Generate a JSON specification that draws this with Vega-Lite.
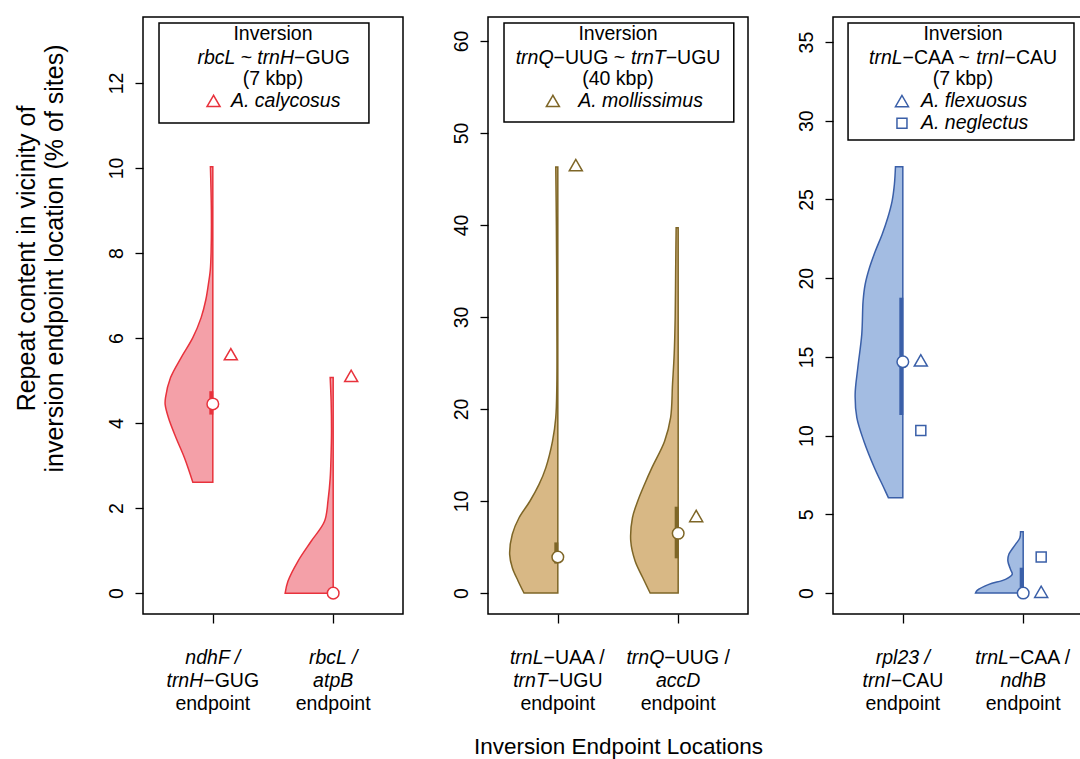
{
"$schema": "https://vega.github.io/schema/vega-lite/v6.json",
"padding": {"left": 13, "top": 16, "right": 0, "bottom": 5},
"background": "white",
"config": {
 "view": {"stroke": "black", "strokeWidth": 1.5},
 "font": "Liberation Sans",
 "axis": {"grid": false, "domain": false, "tickColor": "black", "labelColor": "black", "titleColor": "black", "tickWidth": 1.3, "labelFont": "Liberation Sans", "titleFont": "Liberation Sans", "labelFontSize": 19.5, "titleFontSize": 22.5, "titleFontWeight": "normal"},
 "axisY": {"tickSize": 8, "labelAngle": -90, "labelAlign": "center", "labelBaseline": "bottom", "labelPadding": 9},
 "axisX": {"tickSize": 9, "labels": false},
 "text": {"font": "Liberation Sans", "fontSize": 19.5, "color": "black"}
},
"datasets": {
 "violin": [
  {"p":1,"pos":1,"y":10.03,"x":0.980},{"p":1,"pos":1,"y":9.0,"x":0.988},{"p":1,"pos":1,"y":8.05,"x":0.986},{"p":1,"pos":1,"y":7.6,"x":0.979},{"p":1,"pos":1,"y":7.26,"x":0.963},{"p":1,"pos":1,"y":6.9,"x":0.942},{"p":1,"pos":1,"y":6.48,"x":0.903},{"p":1,"pos":1,"y":6.01,"x":0.834},{"p":1,"pos":1,"y":5.54,"x":0.737},{"p":1,"pos":1,"y":5.07,"x":0.649},{"p":1,"pos":1,"y":4.6,"x":0.607},{"p":1,"pos":1,"y":4.44,"x":0.604},{"p":1,"pos":1,"y":4.12,"x":0.632},{"p":1,"pos":1,"y":3.65,"x":0.695},{"p":1,"pos":1,"y":3.18,"x":0.765},{"p":1,"pos":1,"y":2.61,"x":0.834},
  {"p":1,"pos":2,"y":5.07,"x":1.975},{"p":1,"pos":2,"y":4.5,"x":1.983},{"p":1,"pos":2,"y":3.8,"x":1.986},{"p":1,"pos":2,"y":3.2,"x":1.982},{"p":1,"pos":2,"y":2.7,"x":1.975},{"p":1,"pos":2,"y":2.2,"x":1.958},{"p":1,"pos":2,"y":1.69,"x":1.928},{"p":1,"pos":2,"y":1.22,"x":1.817},{"p":1,"pos":2,"y":0.75,"x":1.707},{"p":1,"pos":2,"y":0.28,"x":1.624},{"p":1,"pos":2,"y":0,"x":1.601},
  {"p":2,"pos":1,"y":46.3,"x":0.983},{"p":2,"pos":1,"y":40,"x":0.988},{"p":2,"pos":1,"y":30,"x":0.992},{"p":2,"pos":1,"y":22.7,"x":0.992},{"p":2,"pos":1,"y":19.06,"x":0.983},{"p":2,"pos":1,"y":16.5,"x":0.956},{"p":2,"pos":1,"y":13.6,"x":0.900},{"p":2,"pos":1,"y":11.8,"x":0.844},{"p":2,"pos":1,"y":10.0,"x":0.769},{"p":2,"pos":1,"y":8.18,"x":0.678},{"p":2,"pos":1,"y":6.38,"x":0.622},{"p":2,"pos":1,"y":4.2,"x":0.600},{"p":2,"pos":1,"y":2.75,"x":0.622},{"p":2,"pos":1,"y":1.34,"x":0.669},{"p":2,"pos":1,"y":0,"x":0.719},
  {"p":2,"pos":2,"y":39.7,"x":1.983},{"p":2,"pos":2,"y":35,"x":1.979},{"p":2,"pos":2,"y":29.9,"x":1.975},{"p":2,"pos":2,"y":26,"x":1.967},{"p":2,"pos":2,"y":22.7,"x":1.953},{"p":2,"pos":2,"y":19.05,"x":1.937},{"p":2,"pos":2,"y":16.5,"x":1.887},{"p":2,"pos":2,"y":13.6,"x":1.781},{"p":2,"pos":2,"y":11.8,"x":1.720},{"p":2,"pos":2,"y":10.0,"x":1.664},{"p":2,"pos":2,"y":8.18,"x":1.620},{"p":2,"pos":2,"y":5.65,"x":1.606},{"p":2,"pos":2,"y":3.48,"x":1.642},{"p":2,"pos":2,"y":1.66,"x":1.706},{"p":2,"pos":2,"y":0,"x":1.767},
  {"p":3,"pos":1,"y":27.08,"x":0.939},{"p":3,"pos":1,"y":25.96,"x":0.930},{"p":3,"pos":1,"y":24.9,"x":0.911},{"p":3,"pos":1,"y":23.84,"x":0.875},{"p":3,"pos":1,"y":22.78,"x":0.828},{"p":3,"pos":1,"y":21.72,"x":0.772},{"p":3,"pos":1,"y":20.66,"x":0.723},{"p":3,"pos":1,"y":19.6,"x":0.687},{"p":3,"pos":1,"y":18.55,"x":0.670},{"p":3,"pos":1,"y":16.43,"x":0.659},{"p":3,"pos":1,"y":14.31,"x":0.626},{"p":3,"pos":1,"y":12.62,"x":0.604},{"p":3,"pos":1,"y":11.14,"x":0.618},{"p":3,"pos":1,"y":9.66,"x":0.676},{"p":3,"pos":1,"y":7.96,"x":0.764},{"p":3,"pos":1,"y":6.69,"x":0.842},{"p":3,"pos":1,"y":6.06,"x":0.880},
  {"p":3,"pos":2,"y":3.9,"x":1.978},{"p":3,"pos":2,"y":3.5,"x":1.972},{"p":3,"pos":2,"y":3.09,"x":1.936},{"p":3,"pos":2,"y":2.46,"x":1.881},{"p":3,"pos":2,"y":2.03,"x":1.873},{"p":3,"pos":2,"y":1.5,"x":1.895},{"p":3,"pos":2,"y":1.19,"x":1.909},{"p":3,"pos":2,"y":0.87,"x":1.853},{"p":3,"pos":2,"y":0.55,"x":1.715},{"p":3,"pos":2,"y":0.17,"x":1.618},{"p":3,"pos":2,"y":0,"x":1.604}
 ],
 "iqr": [{"p":1,"x":1,"y":4.2,"y2":4.75},{"p":2,"x":1,"y":3.2,"y2":5.5},{"p":2,"x":2,"y":3.77,"y2":9.38},{"p":3,"x":1,"y":11.31,"y2":18.76},{"p":3,"x":2,"y":0,"y2":1.61}],
 "med": [{"p":1,"x":1,"y":4.45},{"p":1,"x":2,"y":0},{"p":2,"x":1,"y":3.91},{"p":2,"x":2,"y":6.49},{"p":3,"x":1,"y":14.69},{"p":3,"x":2,"y":0}],
 "obs": [{"p":1,"x":1,"y":5.62,"species":"A. calycosus"},{"p":1,"x":2,"y":5.11,"species":"A. calycosus"},{"p":2,"x":1,"y":46.5,"species":"A. mollissimus"},{"p":2,"x":2,"y":8.37,"species":"A. mollissimus"},{"p":3,"x":1,"y":14.78,"species":"A. flexuosus"},{"p":3,"x":1,"y":10.33,"species":"A. neglectus"},{"p":3,"x":2,"y":2.29,"species":"A. neglectus"},{"p":3,"x":2,"y":0.08,"species":"A. flexuosus"}],
 "boxes": [{"p":1,"x":0.553,"x2":2.297,"y":13.41,"y2":11.06},{"p":2,"x":0.553,"x2":2.462,"y":61.96,"y2":51.2},{"p":3,"x":0.545,"x2":2.422,"y":36.21,"y2":28.77}],
 "legsym": [{"p":1,"x":1.006,"y":11.576,"species":"A. calycosus"},{"p":2,"x":0.959,"y":53.48,"species":"A. mollissimus"},{"p":3,"x":0.993,"y":31.25,"species":"A. flexuosus"},{"p":3,"x":0.993,"y":29.84,"species":"A. neglectus"}],
 "t_cn": [
  {"p":1,"x":1.5,"y":13.146,"t":"Inversion"},{"p":1,"x":1.5,"y":12.101,"t":"(7 kbp)"},{"p":1,"x":1,"y":-2.612,"t":"endpoint"},{"p":1,"x":2,"y":-2.612,"t":"endpoint"},
  {"p":2,"x":1.5,"y":60.73,"t":"Inversion"},{"p":2,"x":1.5,"y":55.9,"t":"(40 kbp)"},{"p":2,"x":1,"y":-12.065,"t":"endpoint"},{"p":2,"x":2,"y":-12.065,"t":"endpoint"},
  {"p":3,"x":1.5,"y":35.49,"t":"Inversion"},{"p":3,"x":1.5,"y":32.67,"t":"(7 kbp)"},{"p":3,"x":1,"y":-7.051,"t":"endpoint"},{"p":3,"x":2,"y":-7.051,"t":"endpoint"}
 ],
 "t_ci": [
  {"p":1,"x":1,"y":-1.529,"t":"ndhF /"},{"p":1,"x":2,"y":-1.529,"t":"rbcL /"},{"p":1,"x":2,"y":-2.071,"t":"atpB"},
  {"p":2,"x":2,"y":-9.565,"t":"accD"},
  {"p":3,"x":1,"y":-4.129,"t":"rpl23 /"},{"p":3,"x":2,"y":-5.59,"t":"ndhB"}
 ],
 "t_ri": [
  {"p":1,"x":1.675,"y":12.595,"t":"rbcL ~ trnH"},{"p":1,"x":0.921,"y":-2.071,"t":"trnH"},
  {"p":2,"x":0.965,"y":58.18,"t":"trnQ"},{"p":2,"x":1.896,"y":58.18,"t":"trnT"},{"p":2,"x":0.881,"y":-7.065,"t":"trnL"},{"p":2,"x":0.917,"y":-9.565,"t":"trnT"},{"p":2,"x":1.885,"y":-7.065,"t":"trnQ"},
  {"p":3,"x":0.998,"y":34.0,"t":"trnL"},{"p":3,"x":1.845,"y":34.0,"t":"trnI"},{"p":3,"x":0.899,"y":-5.59,"t":"trnI"},{"p":3,"x":1.881,"y":-4.129,"t":"trnL"}
 ],
 "t_ln": [
  {"p":1,"x":1.675,"y":12.595,"t":"−GUG"},{"p":1,"x":0.921,"y":-2.071,"t":"−GUG"},
  {"p":2,"x":0.965,"y":58.18,"t":"−UUG ~"},{"p":2,"x":1.896,"y":58.18,"t":"−UGU"},{"p":2,"x":0.881,"y":-7.065,"t":"−UAA /"},{"p":2,"x":0.917,"y":-9.565,"t":"−UGU"},{"p":2,"x":1.885,"y":-7.065,"t":"−UUG /"},
  {"p":3,"x":0.998,"y":34.0,"t":"−CAA ~"},{"p":3,"x":1.845,"y":34.0,"t":"−CAU"},{"p":3,"x":0.899,"y":-5.59,"t":"−CAU"},{"p":3,"x":1.881,"y":-4.129,"t":"−CAA /"}
 ],
 "t_li": [
  {"p":1,"x":1.151,"y":11.576,"t":"A. calycosus"},
  {"p":2,"x":1.17,"y":53.48,"t":"A. mollissimus"},
  {"p":3,"x":1.151,"y":31.25,"t":"A. flexuosus"},{"p":3,"x":1.151,"y":29.84,"t":"A. neglectus"}
 ]
},
"spacing": 85,
"bounds": "flush",
"hconcat": [
 {
  "width": 260, "height": 597,
  "encoding": {
   "x": {"field":"x","type":"quantitative","scale":{"domain":[0.42,2.58],"nice":false,"zero":false},"axis":{"values":[1,2],"title":null}},
   "y": {"field":"y","type":"quantitative","scale":{"domain":[-0.49,13.55],"nice":false,"zero":false},"axis":{"values":[0,2,4,6,8,10,12],"title":["Repeat content in vicinity of","inversion endpoint location (% of sites)"],"titleFontSize":25,"titleAngle":-90,"titleX":-129,"titleY":241,"titleAlign":"center","titleBaseline":"top","titleLineHeight":28}}
  },
  "layer": [
   {"data":{"name":"violin"},"transform":[{"filter":"datum.p==1 && datum.pos==1"}],"mark":{"type":"area","orient":"horizontal","interpolate":"catmull-rom","fill":"#F4A0A8","stroke":"#E8323C","strokeWidth":1.5},"encoding":{"x2":{"field":"pos"}}},
   {"data":{"name":"violin"},"transform":[{"filter":"datum.p==1 && datum.pos==2"}],"mark":{"type":"area","orient":"horizontal","interpolate":"catmull-rom","fill":"#F4A0A8","stroke":"#E8323C","strokeWidth":1.5},"encoding":{"x2":{"field":"pos"}}},
   {"data":{"name":"iqr"},"transform":[{"filter":"datum.p==1"}],"mark":{"type":"rule","color":"#E8323C","strokeWidth":4,"xOffset":-1.5},"encoding":{"y2":{"field":"y2"}}},
   {"data":{"name":"med"},"transform":[{"filter":"datum.p==1"}],"mark":{"type":"point","shape":"circle","filled":true,"fill":"white","stroke":"#E8323C","strokeWidth":1.5,"size":135,"opacity":1}},
   {"data":{"name":"obs"},"transform":[{"filter":"datum.p==1 && datum.species != 'A. neglectus'"}],"mark":{"type":"point","shape":"triangle-up","size":170,"filled":false,"color":"#E8323C","strokeWidth":1.5,"xOffset":18,"opacity":1}},
   {"data":{"name":"boxes"},"transform":[{"filter":"datum.p==1"}],"mark":{"type":"rect","fill":"white","stroke":"black","strokeWidth":1.5},"encoding":{"x2":{"field":"x2"},"y2":{"field":"y2"}}},
   {"data":{"name":"legsym"},"transform":[{"filter":"datum.p==1 && datum.species != 'A. neglectus'"}],"mark":{"type":"point","shape":"triangle-up","size":170,"filled":false,"color":"#E8323C","strokeWidth":1.5,"opacity":1}},
   {"data":{"name":"t_cn"},"transform":[{"filter":"datum.p==1"}],"mark":{"type":"text","align":"center","baseline":"middle"},"encoding":{"text":{"field":"t"}}},
   {"data":{"name":"t_ci"},"transform":[{"filter":"datum.p==1"}],"mark":{"type":"text","align":"center","baseline":"middle","fontStyle":"italic"},"encoding":{"text":{"field":"t"}}},
   {"data":{"name":"t_ri"},"transform":[{"filter":"datum.p==1"}],"mark":{"type":"text","align":"right","baseline":"middle","fontStyle":"italic"},"encoding":{"text":{"field":"t"}}},
   {"data":{"name":"t_ln"},"transform":[{"filter":"datum.p==1"}],"mark":{"type":"text","align":"left","baseline":"middle"},"encoding":{"text":{"field":"t"}}},
   {"data":{"name":"t_li"},"transform":[{"filter":"datum.p==1"}],"mark":{"type":"text","align":"left","baseline":"middle","fontStyle":"italic"},"encoding":{"text":{"field":"t"}}}
  ]
 },
 {
  "width": 260, "height": 597,
  "encoding": {
   "x": {"field":"x","type":"quantitative","scale":{"domain":[0.42,2.58],"nice":false,"zero":false},"axis":{"values":[1,2],"title":"Inversion Endpoint Locations","titleY":132,"titleBaseline":"middle"}},
   "y": {"field":"y","type":"quantitative","scale":{"domain":[-2.28,62.6],"nice":false,"zero":false},"axis":{"values":[0,10,20,30,40,50,60],"title":null}}
  },
  "layer": [
   {"data":{"name":"violin"},"transform":[{"filter":"datum.p==2 && datum.pos==1"}],"mark":{"type":"area","orient":"horizontal","interpolate":"catmull-rom","fill":"#D8B885","stroke":"#7E6627","strokeWidth":1.5},"encoding":{"x2":{"field":"pos"}}},
   {"data":{"name":"violin"},"transform":[{"filter":"datum.p==2 && datum.pos==2"}],"mark":{"type":"area","orient":"horizontal","interpolate":"catmull-rom","fill":"#D8B885","stroke":"#7E6627","strokeWidth":1.5},"encoding":{"x2":{"field":"pos"}}},
   {"data":{"name":"iqr"},"transform":[{"filter":"datum.p==2"}],"mark":{"type":"rule","color":"#7E6627","strokeWidth":4,"xOffset":-1.5},"encoding":{"y2":{"field":"y2"}}},
   {"data":{"name":"med"},"transform":[{"filter":"datum.p==2"}],"mark":{"type":"point","shape":"circle","filled":true,"fill":"white","stroke":"#7E6627","strokeWidth":1.5,"size":135,"opacity":1}},
   {"data":{"name":"obs"},"transform":[{"filter":"datum.p==2 && datum.species != 'A. neglectus'"}],"mark":{"type":"point","shape":"triangle-up","size":170,"filled":false,"color":"#7E6627","strokeWidth":1.5,"xOffset":18,"opacity":1}},
   {"data":{"name":"boxes"},"transform":[{"filter":"datum.p==2"}],"mark":{"type":"rect","fill":"white","stroke":"black","strokeWidth":1.5},"encoding":{"x2":{"field":"x2"},"y2":{"field":"y2"}}},
   {"data":{"name":"legsym"},"transform":[{"filter":"datum.p==2 && datum.species != 'A. neglectus'"}],"mark":{"type":"point","shape":"triangle-up","size":170,"filled":false,"color":"#7E6627","strokeWidth":1.5,"opacity":1}},
   {"data":{"name":"t_cn"},"transform":[{"filter":"datum.p==2"}],"mark":{"type":"text","align":"center","baseline":"middle"},"encoding":{"text":{"field":"t"}}},
   {"data":{"name":"t_ci"},"transform":[{"filter":"datum.p==2"}],"mark":{"type":"text","align":"center","baseline":"middle","fontStyle":"italic"},"encoding":{"text":{"field":"t"}}},
   {"data":{"name":"t_ri"},"transform":[{"filter":"datum.p==2"}],"mark":{"type":"text","align":"right","baseline":"middle","fontStyle":"italic"},"encoding":{"text":{"field":"t"}}},
   {"data":{"name":"t_ln"},"transform":[{"filter":"datum.p==2"}],"mark":{"type":"text","align":"left","baseline":"middle"},"encoding":{"text":{"field":"t"}}},
   {"data":{"name":"t_li"},"transform":[{"filter":"datum.p==2"}],"mark":{"type":"text","align":"left","baseline":"middle","fontStyle":"italic"},"encoding":{"text":{"field":"t"}}}
  ]
 },
 {
  "width": 260, "height": 597,
  "encoding": {
   "x": {"field":"x","type":"quantitative","scale":{"domain":[0.42,2.58],"nice":false,"zero":false},"axis":{"values":[1,2],"title":null}},
   "y": {"field":"y","type":"quantitative","scale":{"domain":[-1.33,36.59],"nice":false,"zero":false},"axis":{"values":[0,5,10,15,20,25,30,35],"title":null}}
  },
  "layer": [
   {"data":{"name":"violin"},"transform":[{"filter":"datum.p==3 && datum.pos==1"}],"mark":{"type":"area","orient":"horizontal","interpolate":"catmull-rom","fill":"#A3BCE2","stroke":"#3A5FA8","strokeWidth":1.5},"encoding":{"x2":{"field":"pos"}}},
   {"data":{"name":"violin"},"transform":[{"filter":"datum.p==3 && datum.pos==2"}],"mark":{"type":"area","orient":"horizontal","interpolate":"catmull-rom","fill":"#A3BCE2","stroke":"#3A5FA8","strokeWidth":1.5},"encoding":{"x2":{"field":"pos"}}},
   {"data":{"name":"iqr"},"transform":[{"filter":"datum.p==3"}],"mark":{"type":"rule","color":"#3A5FA8","strokeWidth":4,"xOffset":-1.5},"encoding":{"y2":{"field":"y2"}}},
   {"data":{"name":"med"},"transform":[{"filter":"datum.p==3"}],"mark":{"type":"point","shape":"circle","filled":true,"fill":"white","stroke":"#3A5FA8","strokeWidth":1.5,"size":135,"opacity":1}},
   {"data":{"name":"obs"},"transform":[{"filter":"datum.p==3 && datum.species != 'A. neglectus'"}],"mark":{"type":"point","shape":"triangle-up","size":170,"filled":false,"color":"#3A5FA8","strokeWidth":1.5,"xOffset":18,"opacity":1}},
   {"data":{"name":"obs"},"transform":[{"filter":"datum.p==3 && datum.species == 'A. neglectus'"}],"mark":{"type":"point","shape":"square","size":100,"filled":false,"color":"#3A5FA8","strokeWidth":1.5,"xOffset":18,"opacity":1}},
   {"data":{"name":"boxes"},"transform":[{"filter":"datum.p==3"}],"mark":{"type":"rect","fill":"white","stroke":"black","strokeWidth":1.5},"encoding":{"x2":{"field":"x2"},"y2":{"field":"y2"}}},
   {"data":{"name":"legsym"},"transform":[{"filter":"datum.p==3 && datum.species != 'A. neglectus'"}],"mark":{"type":"point","shape":"triangle-up","size":170,"filled":false,"color":"#3A5FA8","strokeWidth":1.5,"opacity":1}},
   {"data":{"name":"legsym"},"transform":[{"filter":"datum.p==3 && datum.species == 'A. neglectus'"}],"mark":{"type":"point","shape":"square","size":100,"filled":false,"color":"#3A5FA8","strokeWidth":1.5,"opacity":1}},
   {"data":{"name":"t_cn"},"transform":[{"filter":"datum.p==3"}],"mark":{"type":"text","align":"center","baseline":"middle"},"encoding":{"text":{"field":"t"}}},
   {"data":{"name":"t_ci"},"transform":[{"filter":"datum.p==3"}],"mark":{"type":"text","align":"center","baseline":"middle","fontStyle":"italic"},"encoding":{"text":{"field":"t"}}},
   {"data":{"name":"t_ri"},"transform":[{"filter":"datum.p==3"}],"mark":{"type":"text","align":"right","baseline":"middle","fontStyle":"italic"},"encoding":{"text":{"field":"t"}}},
   {"data":{"name":"t_ln"},"transform":[{"filter":"datum.p==3"}],"mark":{"type":"text","align":"left","baseline":"middle"},"encoding":{"text":{"field":"t"}}},
   {"data":{"name":"t_li"},"transform":[{"filter":"datum.p==3"}],"mark":{"type":"text","align":"left","baseline":"middle","fontStyle":"italic"},"encoding":{"text":{"field":"t"}}}
  ]
 }
]
}
